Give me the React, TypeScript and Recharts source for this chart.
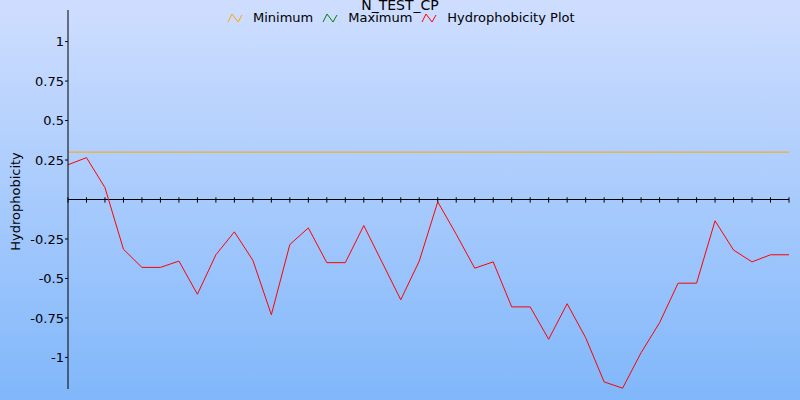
import React from 'react';
import { LineChart, Line, XAxis, YAxis, ReferenceLine } from 'recharts';

const residues: number[] = Array.from({ length: 40 }, (_, i) => i);
const hydrophobicity: number[] = [
  0.22, 0.265, 0.075, -0.315, -0.43, -0.43, -0.39, -0.6, -0.35, -0.205,
  -0.385, -0.73, -0.285, -0.18, -0.4, -0.4, -0.165, -0.4, -0.635, -0.39,
  -0.015, -0.22, -0.435, -0.395, -0.68, -0.68, -0.885, -0.66, -0.875, -1.155,
  -1.195, -0.97, -0.78, -0.53, -0.53, -0.135, -0.32, -0.395, -0.35, -0.35,
];
const minimumValue = 0.3;
const yTicks: number[] = [-1, -0.75, -0.5, -0.25, 0.25, 0.5, 0.75, 1];
const title = 'N_TEST_CP';
const legendItems = [
  { name: 'Minimum', color: '#ffa500' },
  { name: 'Maximum', color: '#008000' },
  { name: 'Hydrophobicity Plot', color: '#ff0000' },
];

const data = residues.map((r, i) => ({
  i: r,
  value: hydrophobicity[i],
  min: minimumValue,
}));

const FONT = '"DejaVu Sans", Verdana, sans-serif';

const Zig = ({ color }: { color: string }) => (
  <svg width={16} height={10} style={{ display: 'block' }}>
    <polyline points="1,9 5,1 11,9 15,2" fill="none" stroke={color} strokeWidth={1} />
  </svg>
);

export default function App() {
  return (
    <div
      style={{
        position: 'absolute',
        left: 0,
        top: 0,
        width: 800,
        height: 400,
        background: 'linear-gradient(to bottom, #cfdeff 0%, #80b7fa 100%)',
        fontFamily: FONT,
        overflow: 'hidden',
      }}
    >
      <div
        style={{
          position: 'absolute',
          top: -2,
          left: 0,
          width: 800,
          textAlign: 'center',
          fontSize: 14,
          lineHeight: '14px',
          color: '#000',
        }}
      >
        {title}
      </div>
      <div
        style={{
          position: 'absolute',
          top: 11,
          left: 227,
          display: 'flex',
          alignItems: 'center',
          fontSize: 13,
          lineHeight: '13px',
          color: '#000',
        }}
      >
        {legendItems.map((it, k) => (
          <div key={it.name} style={{ display: 'flex', alignItems: 'center', marginLeft: k === 0 ? 0 : 9 }}>
            <Zig color={it.color} />
            <span style={{ marginLeft: 10 }}>{it.name}</span>
          </div>
        ))}
      </div>
      <LineChart
        width={800}
        height={400}
        data={data}
        margin={{ top: 10, right: 11, bottom: 11, left: 0 }}
        style={{ position: 'absolute', left: 0, top: 0 }}
      >
        <XAxis dataKey="i" type="number" domain={[0, 39]} hide />
        <YAxis
          width={68}
          domain={[-1.2, 1.2]}
          allowDataOverflow
          ticks={yTicks}
          interval={0}
          tickSize={3}
          tickMargin={1}
          axisLine={{ stroke: '#000', strokeWidth: 1 }}
          tickLine={{ stroke: '#000', strokeWidth: 1 }}
          tick={{ fill: '#000', fontSize: 13, fontFamily: FONT }}
          label={{
            content: (props: any) => {
              const vb = props.viewBox || { x: 0, y: 10, width: 68, height: 379 };
              const cx = vb.x + 15.5;
              const cy = vb.y + vb.height / 2 + 2;
              return (
                <text
                  x={cx}
                  y={cy}
                  transform={`rotate(-90 ${cx} ${cy})`}
                  textAnchor="middle"
                  dominantBaseline="central"
                  fontSize={13}
                  fontFamily={FONT}
                  fill="#000"
                >
                  Hydrophobicity
                </text>
              );
            },
          }}
        />
        <ReferenceLine y={0} stroke="#000" strokeWidth={1} />
        {residues.map((r) => (
          <ReferenceLine
            key={r}
            segment={[
              { x: r, y: -0.02 },
              { x: r, y: 0.014 },
            ]}
            stroke="#000"
            strokeWidth={1}
          />
        ))}
        <Line
          dataKey="min"
          stroke="#ffa500"
          strokeWidth={1}
          dot={false}
          isAnimationActive={false}
        />
        <Line
          dataKey="max"
          stroke="#008000"
          strokeWidth={1}
          dot={false}
          isAnimationActive={false}
        />
        <Line
          dataKey="value"
          stroke="#ff0000"
          strokeWidth={1}
          dot={false}
          isAnimationActive={false}
        />
      </LineChart>
    </div>
  );
}
